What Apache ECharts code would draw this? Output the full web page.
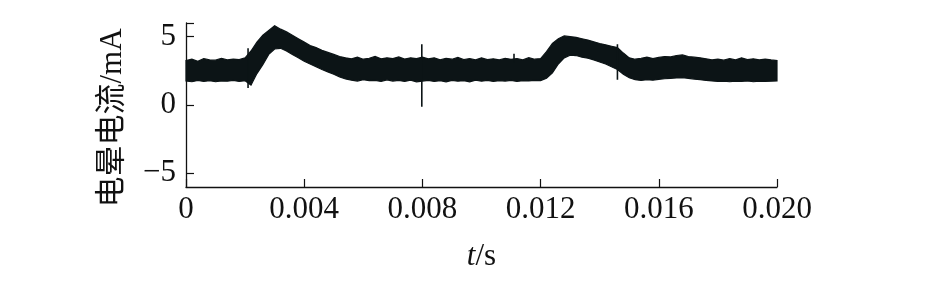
<!DOCTYPE html>
<html><head><meta charset="utf-8">
<script src="https://cdn.jsdelivr.net/npm/echarts@6/dist/echarts.min.js"></script>
<style>html,body{margin:0;padding:0;background:#fff}#c{width:945px;height:284px}</style>
</head><body><div id="c"></div>
<script>
// sample times (s)
const timeS = [
0.0000,0.0002,0.0004,0.0006,0.0008,0.0010,0.0012,0.0014,0.0016,0.0018,
0.0020,0.0022,0.0024,0.0026,0.0028,0.0030,0.0032,0.0034,0.0036,0.0038,
0.0040,0.0042,0.0044,0.0046,0.0048,0.0050,0.0052,0.0054,0.0056,0.0058,
0.0060,0.0062,0.0064,0.0066,0.0068,0.0070,0.0072,0.0074,0.0076,0.0078,
0.0080,0.0082,0.0084,0.0086,0.0088,0.0090,0.0092,0.0094,0.0096,0.0098,
0.0100,0.0102,0.0104,0.0106,0.0108,0.0110,0.0112,0.0114,0.0116,0.0118,
0.0120,0.0122,0.0124,0.0126,0.0128,0.0130,0.0132,0.0134,0.0136,0.0138,
0.0140,0.0142,0.0144,0.0146,0.0148,0.0150,0.0152,0.0154,0.0156,0.0158,
0.0160,0.0162,0.0164,0.0166,0.0168,0.0170,0.0172,0.0174,0.0176,0.0178,
0.0180,0.0182,0.0184,0.0186,0.0188,0.0190,0.0192,0.0194,0.0196,0.0198,
0.0200];
// upper envelope of the noisy corona current (mA)
const upperMA = [
3.25,3.35,3.20,3.40,3.30,3.28,3.42,3.30,3.36,3.32,
3.45,3.95,4.60,5.10,5.45,5.80,5.55,5.35,5.10,4.85,
4.60,4.35,4.20,4.00,3.85,3.70,3.55,3.45,3.38,3.50,
3.35,3.42,3.55,3.38,3.45,3.40,3.52,3.36,3.45,3.40,
3.50,3.38,3.45,3.30,3.42,3.35,3.48,3.32,3.40,3.30,
3.45,3.32,3.38,3.30,3.42,3.34,3.40,3.30,3.46,3.35,
3.40,3.90,4.50,4.85,5.05,5.00,4.95,4.85,4.75,4.62,
4.50,4.40,4.30,4.20,3.80,3.45,3.35,3.42,3.50,3.40,
3.48,3.55,3.52,3.62,3.66,3.55,3.50,3.45,3.38,3.30,
3.35,3.28,3.40,3.30,3.45,3.32,3.38,3.30,3.36,3.30,
3.25];
// lower envelope (mA)
const lowerMA = [
1.75,1.70,1.80,1.72,1.78,1.70,1.76,1.74,1.80,1.72,
1.78,1.45,2.30,2.95,3.70,4.10,4.15,3.95,3.70,3.45,
3.20,3.00,2.80,2.60,2.42,2.25,2.05,1.90,1.82,1.75,
1.85,1.78,1.80,1.72,1.84,1.75,1.80,1.72,1.82,1.70,
1.75,1.80,1.72,1.78,1.70,1.80,1.74,1.78,1.70,1.82,
1.74,1.80,1.72,1.78,1.75,1.80,1.72,1.78,1.76,1.80,
1.78,1.95,2.35,3.00,3.45,3.65,3.62,3.50,3.42,3.30,
3.15,3.00,2.80,2.60,2.25,2.00,1.85,1.80,1.85,1.82,
1.88,1.92,1.95,1.98,2.00,1.95,1.90,1.85,1.80,1.76,
1.72,1.75,1.70,1.74,1.72,1.76,1.70,1.75,1.72,1.74,
1.76];
// isolated spikes
const spikeT = [0.0021, 0.00798, 0.0111, 0.0146];
const spikeTop = [4.15, 4.45, 3.75, 4.45];
const spikeBottom = [1.25, -0.12, 3.10, 1.85];
// ticks
const xTickValues = [0, 0.004, 0.008, 0.012, 0.016, 0.020];
const xTickLabels = ['0', '0.004', '0.008', '0.012', '0.016', '0.020'];
const yTickValues = [-5, 0, 5];
const yTickLabels = ['\u22125', '0', '5'];

const INK = '#0c1416';
const FONT = '"Liberation Serif","Noto Sans CJK SC",serif';

const spikeData = [];
spikeT.forEach((t, i) => { spikeData.push([t, spikeTop[i]], [t, spikeBottom[i]], [t, '-']); });

function renderBand(params, api) {
  const pts = [];
  for (let i = 0; i < timeS.length; i++) pts.push(api.coord([timeS[i], upperMA[i]]));
  for (let i = timeS.length - 1; i >= 0; i--) pts.push(api.coord([timeS[i], lowerMA[i]]));
  return {type: 'polygon', shape: {points: pts},
          style: {fill: INK, stroke: INK, lineWidth: 1.2, lineJoin: 'miter'}};
}

const chart = echarts.init(document.getElementById('c'), null, {renderer: 'canvas'});
chart.setOption({
  animation: false,
  backgroundColor: '#fff',
  grid: {left: 186, right: 168, top: 23, bottom: 97},
  xAxis: {
    type: 'value', min: 0, max: 0.02,
    axisLine: {show: true, onZero: false, lineStyle: {color: '#111', width: 1.3}},
    axisTick: {show: true, inside: true, length: 8, customValues: xTickValues, lineStyle: {color: '#111', width: 1.2}},
    axisLabel: {
      customValues: xTickValues, margin: 7, color: '#111', fontFamily: FONT, fontSize: 31,
      formatter: v => { const k = xTickValues.findIndex(x => Math.abs(x - v) < 1e-9); return k >= 0 ? xTickLabels[k] : ''; }
    },
    splitLine: {show: false},
    name: '{i|t}/s', nameLocation: 'middle', nameGap: 54,
    nameTextStyle: {color: '#111', fontFamily: FONT, fontSize: 31,
      rich: {i: {fontStyle: 'italic', fontFamily: FONT, fontSize: 31, color: '#111'}}}
  },
  yAxis: {
    type: 'value', min: -6, max: 6,
    axisLine: {show: true, onZero: false, lineStyle: {color: '#111', width: 1.3}},
    axisTick: {show: true, inside: true, length: 8, customValues: [-5, 0, 5, 6], lineStyle: {color: '#111', width: 1.2}},
    axisLabel: {
      customValues: yTickValues, margin: 10, color: '#111', fontFamily: FONT, fontSize: 31,
      formatter: v => { const k = yTickValues.indexOf(Math.round(v)); return k >= 0 ? yTickLabels[k] : ''; }
    },
    splitLine: {show: false},
    name: '电晕电流/mA', nameLocation: 'middle', nameGap: 58, nameRotate: 90,
    nameTextStyle: {color: '#111', fontFamily: FONT, fontSize: 31, padding: [0, 26, 0, 0]}
  },
  series: [
    {type: 'custom', renderItem: renderBand, data: [[0.01, 2.5]], z: 3, silent: true},
    {type: 'line', data: spikeData, showSymbol: false, symbol: 'none', connectNulls: false,
     lineStyle: {color: INK, width: 1.6}, z: 4}
  ]
});
</script></body></html>
